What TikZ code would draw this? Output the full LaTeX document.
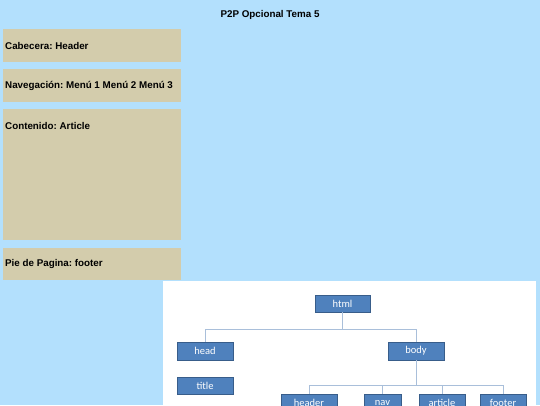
\documentclass[tikz,border=0pt]{standalone}
\usepackage{fontspec}
\setmainfont{Liberation Sans}
\newfontfamily\calib{Carlito}
\frenchspacing
\definecolor{bgblue}{HTML}{B3E0FD}
\definecolor{tan}{HTML}{D3CCAC}
\definecolor{nodeblue}{HTML}{4F81BD}
\definecolor{nodeedge}{HTML}{385D8A}
\definecolor{linkcol}{HTML}{A9BFDA}
\begin{document}
\begin{tikzpicture}[x=1pt,y=-1pt,
  section/.style={fill=tan,draw=none},
  sectext/.style={anchor=west,inner sep=0pt,font=\bfseries\fontsize{9.8}{11}\selectfont},
  tag/.style={draw=nodeedge,line width=0.8pt,fill=nodeblue,text=white,inner sep=0pt,font=\calib\fontsize{10.5}{11}\selectfont},
  link/.style={draw=linkcol,line width=0.8pt}]
\useasboundingbox (0,0) rectangle (540,405);
\clip (0,0) rectangle (540,405);
\fill[bgblue] (0,0) rectangle (540,405);
\node[font=\bfseries\fontsize{9.8}{11}\selectfont,inner sep=0pt] (title) at (270,14.5) {P2P Opcional Tema 5};
% left sections
\fill[section] (3,29) rectangle (181,62);
\node[sectext] (cab) at (5,45.5) {Cabecera: Header};
\fill[section] (3,69) rectangle (181,102);
\node[sectext] (nav) at (5,85.5) {Navegación: Menú 1 Menú 2 Menú 3};
\fill[section] (3,109) rectangle (181,240);
\node[sectext] (cont) at (5,125.5) {Contenido: Article};
\fill[section] (3,248) rectangle (181,280);
\node[sectext] (pie) at (5,263.5) {Pie de Pagina: footer};
% white panel
\fill[white] (163,281) rectangle (536,410);
% tree nodes
\node[tag,minimum width=55pt,minimum height=17pt] (html) at (342.5,303.5) {html};
\node[tag,minimum width=56pt,minimum height=18pt] (head) at (205,351) {head};
\node[tag,minimum width=56pt,minimum height=18pt] (body) at (416,351) {body};
\node[tag,minimum width=56pt,minimum height=17pt] (ttl) at (205,385.5) {title};
\node[tag,minimum width=56pt,minimum height=18pt] (header) at (309,403) {header};
\node[tag,minimum width=37pt,minimum height=18pt] (navt) at (382.5,403) {nav};
\node[tag,minimum width=46pt,minimum height=18pt] (article) at (442,403) {article};
\node[tag,minimum width=46pt,minimum height=18pt] (footer) at (503,403) {footer};
% connectors
\coordinate (j1) at (342.5,329);
\coordinate (j2) at (416,385);
\draw[link] (html.south) -- (j1);
\draw[link] (j1) -| (head.north);
\draw[link] (j1) -| (body.north);
\draw[link] (body.south) -- (j2);
\draw[link] (j2) -| (header.north);
\draw[link] (j2) -| (footer.north);
\draw[link] (j2 -| navt.north) -- (navt.north);
\draw[link] (j2 -| article.north) -- (article.north);
\end{tikzpicture}
\end{document}
